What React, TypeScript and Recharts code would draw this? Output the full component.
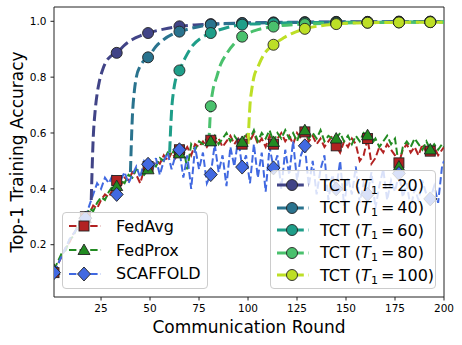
import React from "react";
import { LineChart, Line, XAxis, YAxis, ReferenceArea, Label } from "recharts";

// communication rounds sampled for the baseline runs
const rounds = [...Array.from({ length: 100 }, (_, i) => 2 * i + 1), 200];

const fedAvgAcc = [
  0.1, 0.13, 0.16, 0.19, 0.21, 0.24, 0.26, 0.28, 0.3, 0.31,
  0.34, 0.33, 0.36, 0.38, 0.37, 0.4, 0.43, 0.41, 0.44, 0.43,
  0.46, 0.45, 0.42, 0.47, 0.48, 0.47, 0.5, 0.49, 0.52, 0.5,
  0.53, 0.51, 0.54, 0.53, 0.55, 0.52, 0.56, 0.55, 0.57, 0.55,
  0.574, 0.56, 0.58, 0.55, 0.57, 0.59, 0.56, 0.58, 0.56, 0.59,
  0.57, 0.6, 0.56, 0.58, 0.55, 0.59, 0.56, 0.58, 0.6, 0.57,
  0.59, 0.56, 0.6, 0.58, 0.604, 0.57, 0.59, 0.56, 0.58, 0.55,
  0.57, 0.59, 0.554, 0.53, 0.57, 0.55, 0.58, 0.56, 0.5, 0.52,
  0.58, 0.49, 0.51, 0.55, 0.53, 0.56, 0.54, 0.52, 0.493, 0.54,
  0.56, 0.53, 0.55, 0.52, 0.56, 0.53, 0.535, 0.55, 0.52, 0.54,
  0.55,
];

const fedProxAcc = [
  0.11, 0.14, 0.17, 0.18, 0.22, 0.23, 0.27, 0.28, 0.295, 0.33,
  0.32, 0.35, 0.37, 0.36, 0.39, 0.41, 0.41, 0.43, 0.42, 0.45,
  0.44, 0.47, 0.46, 0.45, 0.47, 0.49, 0.48, 0.51, 0.5, 0.53,
  0.52, 0.55, 0.527, 0.55, 0.47, 0.56, 0.54, 0.57, 0.56, 0.58,
  0.57, 0.59, 0.56, 0.58, 0.6, 0.57, 0.59, 0.57, 0.568, 0.6,
  0.58, 0.61, 0.57, 0.6, 0.58, 0.61, 0.568, 0.6, 0.58, 0.61,
  0.58, 0.6, 0.57, 0.61, 0.61, 0.58, 0.6, 0.58, 0.61, 0.57,
  0.59, 0.58, 0.58, 0.6, 0.57, 0.59, 0.56, 0.59, 0.57, 0.6,
  0.592, 0.56, 0.58, 0.55, 0.57, 0.59, 0.56, 0.58, 0.48, 0.55,
  0.57, 0.55, 0.58, 0.56, 0.54, 0.57, 0.541, 0.56, 0.54, 0.56,
  0.55,
];

const scaffoldAcc = [
  0.1, 0.13, 0.16, 0.19, 0.22, 0.24, 0.26, 0.28, 0.295, 0.34,
  0.38, 0.42, 0.4, 0.44, 0.42, 0.45, 0.38, 0.43, 0.46, 0.42,
  0.45, 0.48, 0.44, 0.5, 0.488, 0.46, 0.51, 0.45, 0.5, 0.53,
  0.47, 0.52, 0.54, 0.44, 0.52, 0.4, 0.55, 0.47, 0.53, 0.42,
  0.451, 0.56, 0.46, 0.52, 0.41, 0.55, 0.48, 0.58, 0.478, 0.52,
  0.42, 0.56, 0.44, 0.53, 0.39, 0.55, 0.475, 0.52, 0.4, 0.54,
  0.45, 0.57, 0.43, 0.52, 0.554, 0.41, 0.5, 0.38, 0.47, 0.52,
  0.36, 0.45, 0.4, 0.5, 0.34, 0.44, 0.38, 0.48, 0.35, 0.42,
  0.38, 0.46, 0.33, 0.41, 0.47, 0.36, 0.43, 0.39, 0.455, 0.37,
  0.42, 0.33, 0.4, 0.36, 0.43, 0.38, 0.364, 0.41, 0.35, 0.48,
  0.5,
];

// TCT runs, sampled from the switch round T1 onwards
const tct20Rounds = [20, 21, 22, 23, 24, 26, 28, 30, 33, 37, 41, 45, 49, 57, 65, 73, 81, 97, 113, 129, 145, 161, 177, 193, 200];
const tct20Acc = [0.36, 0.58, 0.68, 0.74, 0.78, 0.83, 0.86, 0.875, 0.887, 0.915, 0.935, 0.948, 0.958, 0.972, 0.982, 0.987, 0.99, 0.994, 0.996, 0.997, 0.998, 0.998, 0.999, 0.999, 0.999];

const tct40Rounds = [40, 41, 42, 43, 45, 47, 49, 53, 57, 61, 65, 73, 81, 97, 113, 129, 145, 161, 177, 193, 200];
const tct40Acc = [0.46, 0.66, 0.75, 0.8, 0.84, 0.86, 0.871, 0.91, 0.935, 0.952, 0.963, 0.978, 0.988, 0.993, 0.995, 0.996, 0.997, 0.997, 0.998, 0.998, 0.998];

const tct60Rounds = [60, 61, 62, 63, 65, 68, 72, 76, 81, 89, 97, 113, 129, 145, 161, 177, 193, 200];
const tct60Acc = [0.53, 0.68, 0.75, 0.79, 0.824, 0.87, 0.915, 0.94, 0.958, 0.977, 0.988, 0.993, 0.995, 0.996, 0.997, 0.997, 0.998, 0.998];

const tct80Rounds = [80, 81, 82, 84, 86, 89, 93, 97, 105, 113, 129, 145, 161, 177, 193, 200];
const tct80Acc = [0.56, 0.696, 0.75, 0.8, 0.845, 0.883, 0.92, 0.945, 0.97, 0.981, 0.99, 0.993, 0.995, 0.996, 0.997, 0.997];

const tct100Rounds = [100, 101, 102, 103, 105, 108, 113, 118, 122, 129, 137, 145, 161, 177, 193, 200];
const tct100Acc = [0.56, 0.7, 0.76, 0.8, 0.836, 0.88, 0.916, 0.94, 0.955, 0.973, 0.984, 0.99, 0.995, 0.996, 0.997, 0.997];

const xTicks = [25, 50, 75, 100, 125, 150, 175, 200];
const yTicks = [0.2, 0.4, 0.6, 0.8, 1.0];

const FONT = "DejaVu Sans";
const EDGE = "#222";
const Y_MIN = 0.0127;
const Y_MAX = 1.0512;

type Shape = "square" | "triangle" | "diamond" | "circle";

const toPoints = (xs: number[], ys: number[]) => ys.map((y, i) => ({ x: xs[i], y }));

const baselines = [
  { name: "FedAvg", color: "#b22222", shape: "square" as Shape, data: toPoints(rounds, fedAvgAcc) },
  { name: "FedProx", color: "#228b22", shape: "triangle" as Shape, data: toPoints(rounds, fedProxAcc) },
  { name: "SCAFFOLD", color: "#4169e1", shape: "diamond" as Shape, data: toPoints(rounds, scaffoldAcc) },
];

const tctRuns = [
  { t1: 20, color: "#414487", data: toPoints(tct20Rounds, tct20Acc) },
  { t1: 40, color: "#2a738e", data: toPoints(tct40Rounds, tct40Acc) },
  { t1: 60, color: "#1f9e89", data: toPoints(tct60Rounds, tct60Acc) },
  { t1: 80, color: "#4ac16d", data: toPoints(tct80Rounds, tct80Acc) },
  { t1: 100, color: "#bddf26", data: toPoints(tct100Rounds, tct100Acc) },
];

function Marker({ shape, cx, cy, fill }: { shape: Shape; cx: number; cy: number; fill: string }) {
  if (shape === "square")
    return <rect x={cx - 5} y={cy - 5} width={10} height={10} fill={fill} stroke={EDGE} strokeWidth={0.9} />;
  if (shape === "triangle")
    return (
      <polygon
        points={`${cx},${cy - 6} ${cx - 6},${cy + 4.5} ${cx + 6},${cy + 4.5}`}
        fill={fill}
        stroke={EDGE}
        strokeWidth={0.9}
      />
    );
  if (shape === "diamond")
    return (
      <polygon
        points={`${cx},${cy - 7} ${cx + 6.5},${cy} ${cx},${cy + 7} ${cx - 6.5},${cy}`}
        fill={fill}
        stroke={EDGE}
        strokeWidth={0.9}
      />
    );
  return <circle cx={cx} cy={cy} r={5.5} fill={fill} stroke={EDGE} strokeWidth={0.9} />;
}

// markers every 16 rounds, starting at round 1
const markerDot = (shape: Shape, color: string, id: string) => (p: any) => {
  const key = `${id}-${p.index}`;
  if (p.payload == null || (p.payload.x - 1) % 16 !== 0 || p.cx == null) return <g key={key} />;
  return (
    <g key={key}>
      <Marker shape={shape} cx={p.cx} cy={p.cy} fill={color} />
    </g>
  );
};

function Handle({ shape, color, dash, width }: { shape: Shape; color: string; dash: string; width: number }) {
  return (
    <svg width={34} height={16} style={{ display: "block" }}>
      <line x1={1} y1={8} x2={33} y2={8} stroke={color} strokeWidth={width} strokeDasharray={dash} />
      <Marker shape={shape} cx={16} cy={8} fill={color} />
    </svg>
  );
}

const legendBox: React.CSSProperties = {
  position: "absolute",
  background: "rgba(255,255,255,0.8)",
  border: "1px solid #cccccc",
  borderRadius: 4,
  boxSizing: "border-box",
  fontFamily: FONT,
  fontSize: 16,
  color: "#000",
};

const entryStyle = (top: number): React.CSSProperties => ({
  position: "absolute",
  left: 5,
  top: top - 11,
  height: 22,
  display: "flex",
  alignItems: "center",
  whiteSpace: "nowrap",
});

export default function App() {
  return (
    <div style={{ position: "absolute", left: 0, top: 0, width: 462, height: 345, background: "#fff", fontFamily: FONT }}>
      <LineChart width={462} height={345} margin={{ top: 7, right: 18, bottom: 0, left: 0 }}>
        <XAxis
          dataKey="x"
          type="number"
          domain={[1, 200]}
          ticks={xTicks}
          allowDataOverflow
          height={48}
          axisLine={false}
          tickSize={3.5}
          tickMargin={4}
          tickLine={{ stroke: EDGE }}
          tick={{ fontSize: 10.5, fill: "#000", fontFamily: FONT }}
        >
          <Label value="Communication Round" position="insideBottom" offset={12} style={{ fontSize: 17, fill: "#000", fontFamily: FONT }} />
        </XAxis>
        <YAxis
          type="number"
          domain={[Y_MIN, Y_MAX]}
          ticks={yTicks}
          allowDataOverflow
          width={54}
          axisLine={false}
          tickSize={3.5}
          tickMargin={4}
          tickLine={{ stroke: EDGE }}
          tickFormatter={(v: number) => v.toFixed(1)}
          tick={{ fontSize: 10.5, fill: "#000", fontFamily: FONT }}
        >
          <Label
            value="Top-1 Training Accuracy"
            angle={-90}
            position="insideLeft"
            offset={17}
            style={{ fontSize: 17, fill: "#000", fontFamily: FONT, textAnchor: "middle" }}
          />
        </YAxis>
        {baselines.map((s) => (
          <Line
            key={s.name}
            data={s.data}
            dataKey="y"
            type="linear"
            stroke={s.color}
            strokeWidth={2}
            strokeDasharray="7.4 3.2"
            dot={markerDot(s.shape, s.color, s.name)}
            activeDot={false}
            isAnimationActive={false}
          />
        ))}
        {tctRuns.map((s) => (
          <Line
            key={s.t1}
            data={s.data}
            dataKey="y"
            type="monotone"
            stroke={s.color}
            strokeWidth={3}
            strokeDasharray="11 4.8"
            dot={markerDot("circle", s.color, `tct${s.t1}`)}
            activeDot={false}
            isAnimationActive={false}
          />
        ))}
        <ReferenceArea x1={1} x2={200} y1={Y_MIN} y2={Y_MAX} fill="none" stroke={EDGE} strokeWidth={1} />
      </LineChart>

      <div style={{ ...legendBox, left: 62, top: 212, width: 146, height: 77 }}>
        {baselines.map((s, i) => (
          <div key={s.name} style={entryStyle(13.3 + i * 23.8)}>
            <Handle shape={s.shape} color={s.color} dash="7.4 3.2" width={2} />
            <span style={{ marginLeft: 14 }}>{s.name}</span>
          </div>
        ))}
      </div>

      <div style={{ ...legendBox, left: 270, top: 170, width: 166, height: 119 }}>
        {tctRuns.map((s, i) => (
          <div key={s.t1} style={entryStyle(14.3 + i * 22.5)}>
            <Handle shape="circle" color={s.color} dash="11 4.8" width={3} />
            <span style={{ marginLeft: 10 }}>
              TCT (<i>T</i>
              <span style={{ fontSize: 11, position: "relative", top: 3 }}>1</span>
              <span style={{ margin: "0 3px" }}>=</span>
              {s.t1})
            </span>
          </div>
        ))}
      </div>
    </div>
  );
}
